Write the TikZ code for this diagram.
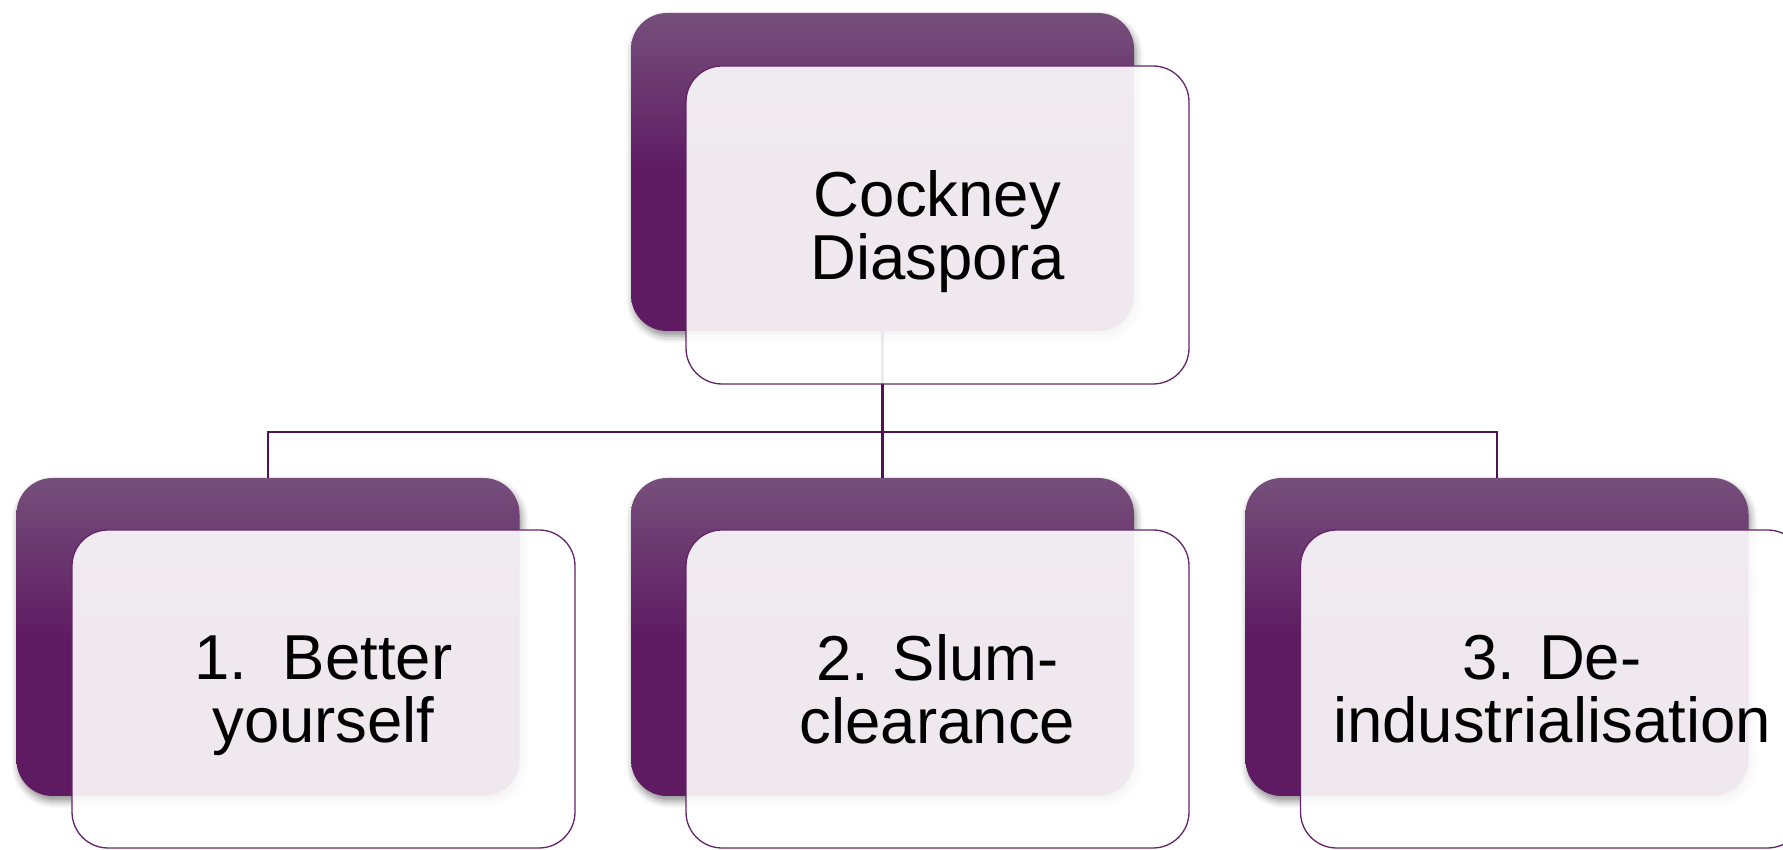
\documentclass[tikz,border=0pt]{standalone}
\usepackage{fontspec}
\setmainfont{Liberation Sans}
\usetikzlibrary{shadows.blur}
\definecolor{plumtop}{RGB}{118,79,123}
\definecolor{plumbot}{RGB}{94,27,98}
\definecolor{plumline}{RGB}{100,36,104}
\definecolor{plumwire}{RGB}{78,20,82}

\begin{document}
\begin{tikzpicture}[x=1pt,y=1pt,
  back/.style={rectangle,rounded corners=36pt,minimum width=503pt,minimum height=318pt,inner sep=0pt,
    top color=plumtop,bottom color=plumbot,middle color=plumbot,
    blur shadow={shadow xshift=2pt,shadow yshift=-5pt,shadow blur radius=7pt,shadow opacity=45}},
  front/.style={rectangle,rounded corners=36pt,minimum width=503pt,minimum height=318pt,inner sep=0pt,
    draw=plumline,line width=1.3pt,fill=white,fill opacity=0.9,text opacity=1,align=center,
    font=\fontsize{63.5}{63}\selectfont},
  wire/.style={draw=plumwire,line width=2.2pt}]
\useasboundingbox (0,0) rectangle (1783,850);
\node[back] (topback) at (882.5,678) {};
\node[back] (oneback) at (268,213) {};
\node[back] (twoback) at (882.5,213) {};
\node[back] (threeback) at (1497,213) {};
\coordinate (hub) at (882.5,418);
\draw[wire] (topback.south) -- (hub);
\draw[wire] (hub) -| (oneback.north);
\draw[wire] (hub) -- (twoback.north);
\draw[wire] (hub) -| (threeback.north);
\node[front] (topfront) at (937.5,625) {Cockney\\\smash{Diaspora}};
\node[front] (onefront) at (323.5,161) {1.\ \ Better\\\smash{yourself}};
\node[front] (twofront) at (937.5,161) {2. Slum-\\clearance};
\node[front] (threefront) at (1552,161) {3. De-\\industrialisation};
\end{tikzpicture}
\end{document}
